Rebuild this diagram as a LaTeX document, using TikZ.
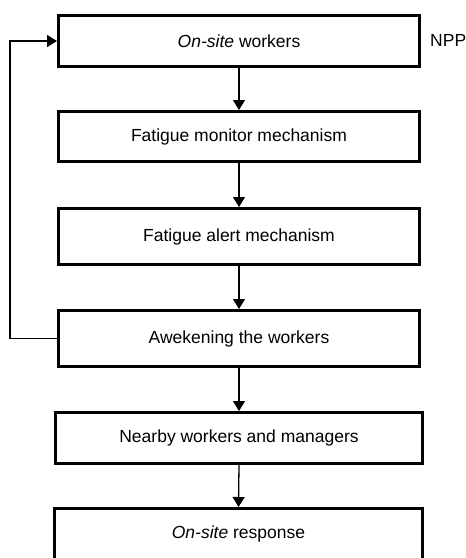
\documentclass[tikz,border=0pt]{standalone}
\usepackage{fontspec}
\setmainfont{Liberation Sans}
\usepackage{tikz}
\usetikzlibrary{arrows.meta, positioning, calc}
\tikzset{
  % Stage boxes of the flow
  stagebox/.style={
    rectangle, draw=black, fill=white, line width=3pt,
    minimum width=361pt, minimum height=#1, inner sep=0pt,
    font=\fontsize{17.5}{21}\selectfont, align=center,
  },
  stagebox/.default={51pt},
  % Arrows
  flowarrow/.style={-{Triangle[length=10pt, width=12pt]}, line width=1.3pt, black},
  looparrow/.style={-{Triangle[length=10pt, width=12pt]}, line width=1.4pt, black},
  % Side label
  sidelabel/.style={font=\fontsize{17.5}{21}\selectfont, inner sep=0pt, anchor=base west},
}
\begin{document}
\begin{tikzpicture}[x=1pt, y=-1pt]

  \useasboundingbox (0,0) rectangle (466,558);
  \clip (0,0) rectangle (466,558);

  % Flow stages
  \node[stagebox=51pt] (onsite) at (239, 41) {\textit{On-site} workers};
  \node[stagebox=50pt] (monitor) at (239, 136.5) {Fatigue monitor mechanism};
  \node[stagebox=56pt] (alert) at (239, 236.5) {Fatigue alert mechanism};
  \node[stagebox=56pt] (awaken) at (239, 338.5) {Awekening the workers};
  \node[stagebox=51pt, minimum width=367pt] (nearby) at (239, 438) {Nearby workers and managers};
  \node[stagebox=51pt, minimum width=368pt] (response) at (238.5, 534) {\textit{On-site} response};

  % Side label
  \node[sidelabel] (npp) at (430, 46) {NPP};

  % Main flow
  \draw[flowarrow] (onsite.south) -- (monitor.north);
  \draw[flowarrow] (monitor.south) -- (alert.north);
  \draw[flowarrow] (alert.south) -- (awaken.north);
  \draw[flowarrow] (awaken.south) -- (nearby.north);
  \draw[flowarrow] (nearby.south) -- (response.north);

  % Feedback loop
  \coordinate (loop-x) at (10, 0);
  \draw[looparrow] (awaken.west) -- (awaken.west -| loop-x) |- (onsite.west);

\end{tikzpicture}
\end{document}
